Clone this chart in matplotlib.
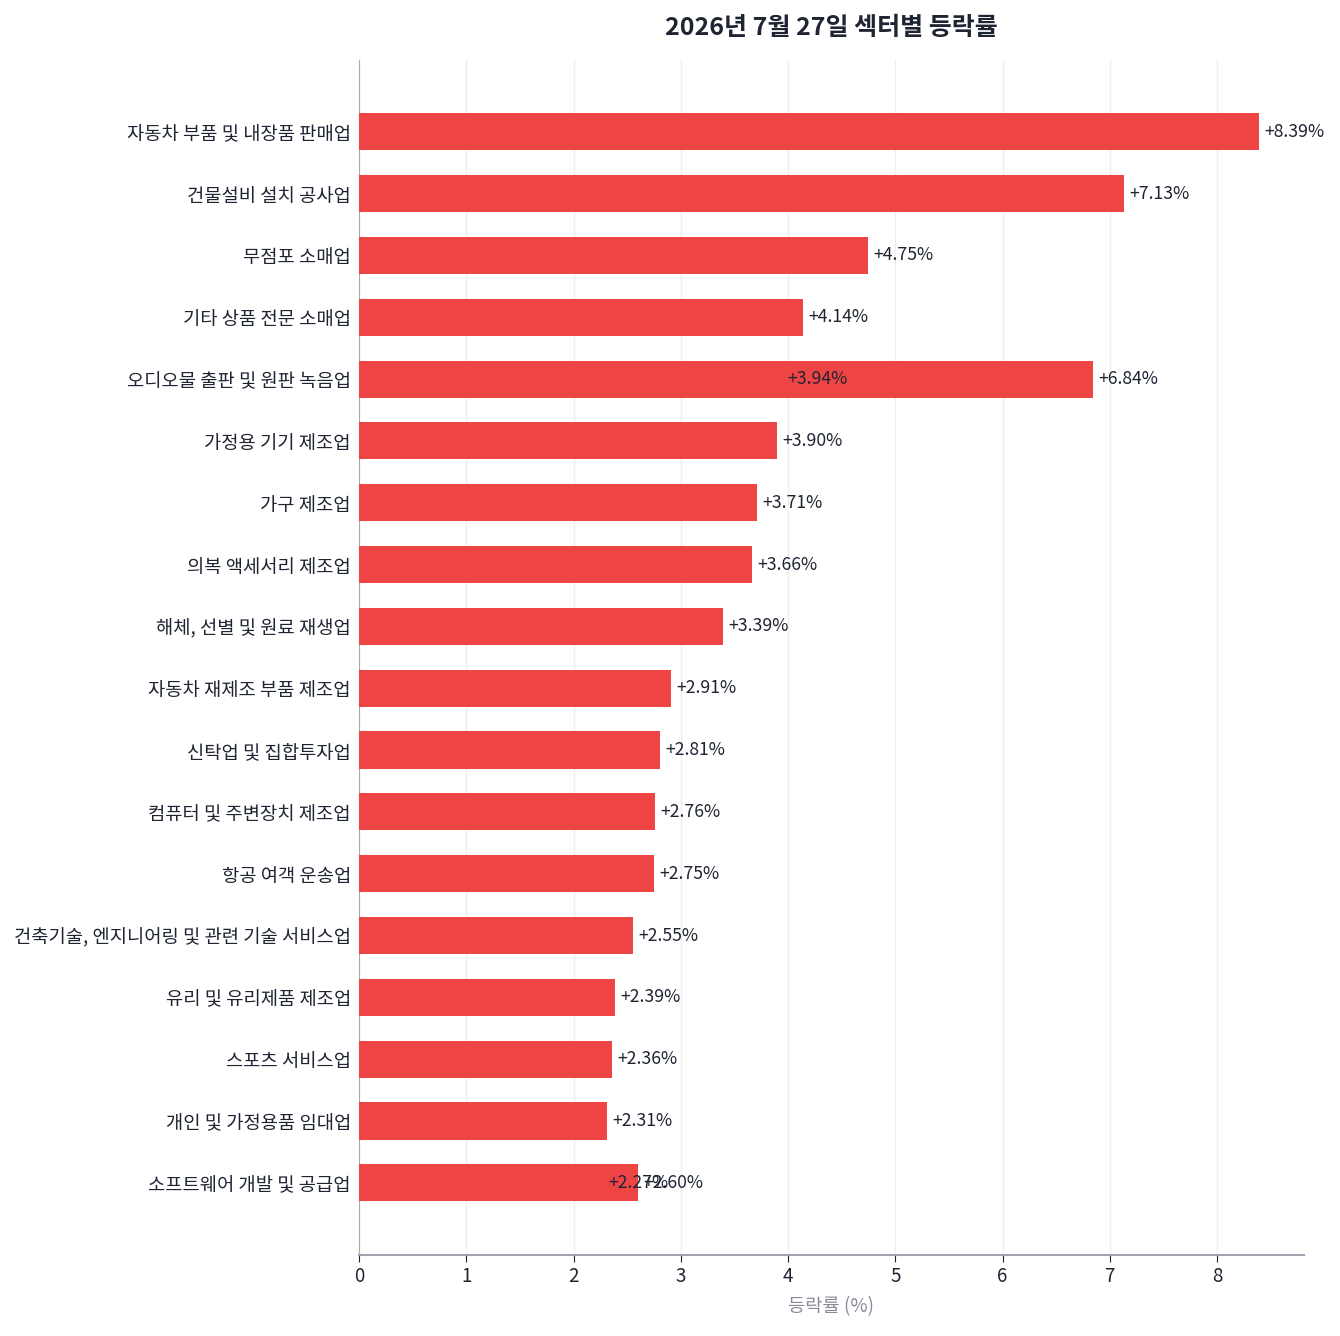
import matplotlib
matplotlib.use("Agg")
import matplotlib.pyplot as plt

plt.rcParams["font.family"] = ["Noto Sans CJK KR", "DejaVu Sans"]

# duplicate sector names share one row on the categorical axis
sectors = [
    "자동차 부품 및 내장품 판매업",
    "건물설비 설치 공사업",
    "무점포 소매업",
    "기타 상품 전문 소매업",
    "오디오물 출판 및 원판 녹음업",
    "가정용 기기 제조업",
    "가구 제조업",
    "의복 액세서리 제조업",
    "해체, 선별 및 원료 재생업",
    "자동차 재제조 부품 제조업",
    "신탁업 및 집합투자업",
    "컴퓨터 및 주변장치 제조업",
    "항공 여객 운송업",
    "건축기술, 엔지니어링 및 관련 기술 서비스업",
    "유리 및 유리제품 제조업",
    "스포츠 서비스업",
    "개인 및 가정용품 임대업",
    "소프트웨어 개발 및 공급업",
    "오디오물 출판 및 원판 녹음업",
    "소프트웨어 개발 및 공급업",
]
changes = [8.39, 7.13, 4.75, 4.14, 3.94, 3.90, 3.71, 3.66, 3.39, 2.91,
           2.81, 2.76, 2.75, 2.55, 2.39, 2.36, 2.31, 2.27, 6.84, 2.60]

BAR = "#EF4444"
DARK = "#1F2433"

fig, ax = plt.subplots(figsize=(13.4, 13.36), dpi=100)
fig.subplots_adjust(left=0.268, right=0.973, top=0.955, bottom=0.061)

ax.barh(sectors, changes, height=0.6, color=BAR, zorder=3)
for s, v in zip(sectors, changes):
    ax.text(v + 0.05, s, f"+{v:.2f}%", va="center", ha="left",
            fontsize=12.7, color=DARK, zorder=4)

ax.set_xlim(0, max(changes) * 1.05)
n = len(dict.fromkeys(sectors))
ax.set_ylim(n - 1 + 1.16, -1.16)

ax.set_title("2026년 7월 27일 섹터별 등락률", fontsize=18, fontweight="bold",
             color=DARK, pad=18)
ax.set_xlabel("등락률 (%)", fontsize=13.5, color="#888C99", labelpad=6)

ax.grid(axis="x", color="#EEEEEE", linewidth=1, zorder=0)
ax.grid(axis="y", visible=False)
for side in ("top", "right"):
    ax.spines[side].set_visible(False)
ax.spines["left"].set_color("#AAAAAA")
ax.spines["bottom"].set_color("#A0A4B0")
ax.spines["bottom"].set_linewidth(1.5)
ax.tick_params(axis="y", length=0, labelsize=13.5, colors=DARK, pad=6)
ax.tick_params(axis="x", labelsize=13.5, colors=DARK, length=5)

fig.savefig("out.png", dpi=100)
